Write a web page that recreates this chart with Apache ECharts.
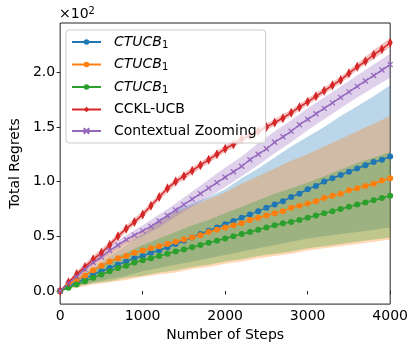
<!DOCTYPE html>
<html><head><meta charset="utf-8">
<script src="https://cdn.jsdelivr.net/npm/echarts@6/dist/echarts.min.js"></script>
<style>html,body{margin:0;padding:0;background:#fff}#c{width:411px;height:347px}</style>
</head><body><div id="c"></div>
<script>
const steps = [0,100,200,300,400,500,600,700,800,900,1000,1100,1200,1300,1400,1500,1600,1700,1800,1900,2000,2100,2200,2300,2400,2500,2600,2700,2800,2900,3000,3100,3200,3300,3400,3500,3600,3700,3800,3900,4000];
const bandSteps = [0,200,400,600,800,1000,1200,1400,1600,1800,2000,2200,2400,2600,2800,3000,3200,3400,3600,3800,4000];

const ctucbA = [0,0.04,0.08,0.11,0.15,0.18,0.21,0.24,0.27,0.30,0.32,0.35,0.37,0.40,0.43,0.46,0.49,0.52,0.55,0.58,0.61,0.64,0.67,0.70,0.73,0.76,0.79,0.82,0.86,0.89,0.93,0.96,1.00,1.03,1.06,1.09,1.12,1.15,1.18,1.20,1.23];
const ctucbB = [0,0.06,0.10,0.14,0.19,0.23,0.27,0.30,0.32,0.35,0.37,0.39,0.41,0.43,0.45,0.47,0.49,0.51,0.54,0.56,0.58,0.60,0.62,0.65,0.67,0.69,0.71,0.73,0.76,0.78,0.80,0.82,0.85,0.87,0.89,0.92,0.94,0.96,0.98,1.01,1.03];
const ctucbC = [0,0.03,0.06,0.09,0.12,0.15,0.18,0.21,0.23,0.26,0.28,0.30,0.32,0.34,0.36,0.38,0.40,0.42,0.44,0.46,0.48,0.50,0.52,0.54,0.56,0.58,0.60,0.62,0.63,0.65,0.67,0.69,0.71,0.73,0.75,0.77,0.79,0.81,0.83,0.85,0.87];
const cckl = [0,0.08,0.155,0.22,0.29,0.35,0.42,0.50,0.57,0.63,0.70,0.78,0.86,0.94,1.00,1.05,1.10,1.15,1.20,1.25,1.30,1.34,1.39,1.42,1.46,1.50,1.54,1.58,1.63,1.68,1.73,1.78,1.83,1.88,1.93,1.99,2.05,2.10,2.16,2.21,2.27];
const zooming = [0,0.07,0.13,0.20,0.26,0.31,0.37,0.42,0.47,0.51,0.55,0.59,0.64,0.69,0.74,0.79,0.84,0.89,0.94,0.99,1.04,1.09,1.14,1.20,1.25,1.30,1.36,1.41,1.46,1.52,1.57,1.62,1.67,1.72,1.77,1.82,1.87,1.92,1.97,2.02,2.07];

const ctucbAHi = [0,0.12,0.22,0.32,0.42,0.52,0.64,0.74,0.80,0.86,0.93,1.03,1.12,1.22,1.32,1.41,1.50,1.60,1.69,1.78,1.88];
const ctucbALo = [0,0.05,0.08,0.11,0.14,0.18,0.21,0.24,0.27,0.30,0.33,0.36,0.39,0.42,0.45,0.48,0.50,0.52,0.54,0.56,0.58];
const ctucbBHi = [0,0.17,0.29,0.38,0.46,0.54,0.63,0.72,0.78,0.84,0.90,0.98,1.05,1.12,1.19,1.25,1.32,1.39,1.46,1.53,1.60];
const ctucbBLo = [0,0.03,0.06,0.08,0.10,0.13,0.15,0.17,0.20,0.22,0.25,0.27,0.30,0.32,0.34,0.37,0.39,0.41,0.43,0.45,0.47];
const ctucbCHi = [0,0.11,0.20,0.28,0.35,0.42,0.48,0.54,0.60,0.65,0.71,0.77,0.83,0.89,0.94,0.99,1.05,1.11,1.17,1.22,1.27];
const ctucbCLo = [0,0.04,0.07,0.09,0.12,0.14,0.17,0.19,0.22,0.24,0.27,0.29,0.32,0.34,0.36,0.39,0.41,0.43,0.45,0.47,0.49];
const ccklHi = [0,0.18,0.32,0.45,0.60,0.73,0.89,1.03,1.13,1.23,1.33,1.42,1.49,1.57,1.66,1.76,1.86,1.96,2.08,2.20,2.31];
const ccklLo = [0,0.13,0.26,0.39,0.54,0.67,0.83,0.97,1.07,1.17,1.27,1.36,1.43,1.51,1.60,1.70,1.80,1.90,2.02,2.12,2.23];
const zoomingHi = [0,0.15,0.29,0.41,0.51,0.60,0.70,0.80,0.91,1.02,1.13,1.23,1.35,1.46,1.56,1.67,1.77,1.87,1.97,2.07,2.17];
const zoomingLo = [0,0.11,0.23,0.33,0.43,0.50,0.58,0.68,0.77,0.86,0.95,1.05,1.15,1.26,1.36,1.47,1.57,1.67,1.77,1.86,1.95];

const yTicks = [0, 0.5, 1.0, 1.5, 2.0];
const xTicks = [0, 1000, 2000, 3000, 4000];

const FONT = 'DejaVu Sans';
const pairs = (xs, ys) => xs.map((x, i) => [x, ys[i]]);

const lines = [
  {key:'a', label:'{i|CTUCB}{s|1}', data:ctucbA, hi:ctucbAHi, lo:ctucbALo, color:'#1f77b4', symbol:'circle', size:6},
  {key:'b', label:'{i|CTUCB}{s|1}', data:ctucbB, hi:ctucbBHi, lo:ctucbBLo, color:'#ff7f0e', symbol:'circle', size:6},
  {key:'c', label:'{i|CTUCB}{s|1}', data:ctucbC, hi:ctucbCHi, lo:ctucbCLo, color:'#2ca02c', symbol:'circle', size:6},
  {key:'CCKL-UCB', label:'CCKL-UCB', data:cckl, hi:ccklHi, lo:ccklLo, color:'#d62728', symbol:'diamond', size:[5,10]},
  {key:'Contextual Zooming', label:'Contextual Zooming', data:zooming, hi:zoomingHi, lo:zoomingLo, color:'#9467bd', symbol:'path://M0,0L10,10M10,0L0,10', size:5}
];

const series = [];
lines.forEach((l) => {
  series.push({type:'custom', silent:true, z:1,
    data:bandSteps.map((x, i) => [x, l.lo[i], l.hi[i]]),
    renderItem:(params, api) => {
      if (params.dataIndex !== 0) return null;
      const up = [], dn = [];
      for (let i = 0; i < bandSteps.length; i++) {
        up.push(api.coord([bandSteps[i], l.hi[i]]));
        dn.push(api.coord([bandSteps[i], l.lo[i]]));
      }
      return {type:'polygon', shape:{points:up.concat(dn.reverse())},
        style:{fill:l.color, opacity:0.3}};
    }});
});
lines.forEach((l) => {
  const isX = l.symbol.startsWith('path');
  series.push({type:'line', name:l.key, data:pairs(steps, l.data), symbol:l.symbol, symbolSize:l.size,
    showSymbol:true, showAllSymbol:true, z:3,
    lineStyle:{color:l.color, width:1.5}, itemStyle:{color:l.color, borderColor:l.color, borderWidth:isX ? 1.2 : 0}});
});
const labelMap = {};
lines.forEach(l => labelMap[l.key] = l.label);

const chart = echarts.init(document.getElementById('c'), null, {renderer:'canvas'});
chart.setOption({
  animation:false,
  backgroundColor:'#fff',
  textStyle:{fontFamily:FONT},
  grid:{left:58, right:20, top:23, bottom:42, show:true, borderColor:'#222', borderWidth:1, backgroundColor:'transparent'},
  xAxis:{type:'value', min:0, max:4000, interval:1000,
    name:'Number of Steps', nameLocation:'middle', nameGap:20,
    nameTextStyle:{fontSize:14, color:'#000', fontFamily:FONT},
    axisLine:{show:false}, splitLine:{show:false},
    axisTick:{show:true, length:3.5, lineStyle:{color:'#222'}},
    axisLabel:{fontSize:14, color:'#000', margin:5, fontFamily:FONT, formatter:v => xTicks.includes(v) ? String(v) : ''}},
  yAxis:{type:'value', min:-0.12, max:2.45,
    name:'Total Regrets', nameLocation:'middle', nameGap:31,
    nameTextStyle:{fontSize:14, color:'#000', fontFamily:FONT},
    axisLine:{show:false}, splitLine:{show:false},
    axisTick:{show:true, length:3.5, lineStyle:{color:'#222'}, customValues:yTicks},
    axisLabel:{fontSize:14, color:'#000', margin:5, fontFamily:FONT, customValues:yTicks, formatter:v => v.toFixed(1)}},
  legend:{left:66, top:30, orient:'vertical', itemWidth:29, itemHeight:7, itemGap:7.5,
    padding:[5,9,5,5], backgroundColor:'rgba(255,255,255,0.8)', borderColor:'#ccc', borderWidth:1, borderRadius:3,
    data:lines.map(l => l.key),
    formatter:name => labelMap[name],
    textStyle:{fontSize:14, color:'#000', fontFamily:FONT, padding:[0,0,0,8],
      rich:{i:{fontStyle:'italic', fontSize:14, fontFamily:FONT, color:'#000'},
            s:{fontSize:10, fontFamily:FONT, color:'#000', verticalAlign:'bottom', padding:[6,0,0,0]}}}},
  graphic:[{type:'text', left:59, top:6, style:{rich:{a:{fontSize:14, fontFamily:FONT, fill:'#000'}, b:{fontSize:10, fontFamily:FONT, fill:'#000', verticalAlign:'top', padding:[0,0,6,0]}}, text:'{a|×10}{b|2}'}}],
  series:series
});
</script></body></html>
